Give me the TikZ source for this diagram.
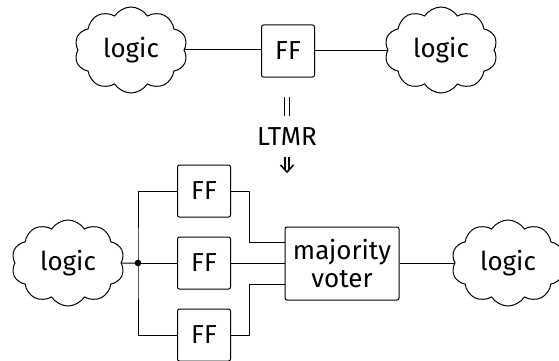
\documentclass[tikz,border=0pt]{standalone}
\usepackage{fontspec}
\setmainfont{Fira Sans}
\usetikzlibrary{shapes.symbols,calc}
\begin{document}
\begin{tikzpicture}[x=1pt,y=-1pt,
  every node/.style={font=\fontsize{26}{29}\selectfont},
  wire/.style={line width=1pt},
  logiccloud/.style={cloud, draw, line width=1pt, cloud puffs=10, cloud puff arc=115,
    cloud ignores aspect, minimum width=113pt, minimum height=86pt, inner sep=0pt},
  ffbox/.style={draw, line width=1pt, rounded corners=2pt, minimum width=53pt, minimum height=52pt, inner sep=0pt},
  voterbox/.style={draw, line width=1pt, rounded corners=2pt, minimum width=114pt, minimum height=73pt, inner sep=0pt, align=center}]
\useasboundingbox (0,0) rectangle (559,361);

% top row
\node[logiccloud] (tl) at (131,50) {logic};
\node[ffbox] (tff) at (288,51) {FF};
\node[logiccloud] (tr) at (441,50) {logic};
\draw[wire] (tl.east) -- (tl.east -| tff.west);
\draw[wire] (tff.east) -- (tff.east -| tr.west);

% transform
\node[inner sep=0pt] (ltmr) at (287,137) {LTMR};
\coordinate (bartop) at (287,97);
\coordinate (barbot) at (287,116);
\draw[line width=1.6pt] ($(bartop)+(-2.5,0)$) -- ($(barbot)+(-2.5,0)$);
\draw[line width=1.6pt] ($(bartop)+(2.5,0)$) -- ($(barbot)+(2.5,0)$);
\coordinate (arrtop) at (287,157);
\coordinate (arrtip) at (287,172);
\draw[line width=1.6pt] ($(arrtop)+(-2,0)$) -- ($(arrtip)+(-2,-3)$);
\draw[line width=1.6pt] ($(arrtop)+(2,0)$) -- ($(arrtip)+(2,-3)$);
\draw[line width=1.6pt, line join=miter] ($(arrtip)+(-6.5,-7)$) -- (arrtip) -- ($(arrtip)+(6.5,-7)$);

% bottom
\node[logiccloud] (bl) at (68,263) {logic};
\coordinate (junc) at (138,263);
\node[ffbox] (f1) at (204,191) {FF};
\node[ffbox] (f2) at (204,263) {FF};
\node[ffbox] (f3) at (204,335) {FF};
\node[voterbox] (mv) at (342,263.5) {majority\\[-1pt]voter};
\node[logiccloud] (br) at (508,263) {logic};

\draw[wire] (bl.east) -- (junc);
\fill (junc) circle (3.3pt);
\draw[wire] (f1.west) -| (junc) |- (f3.west);
\draw[wire] (junc) -- (f2.west);

\coordinate (i1) at (285,242);
\coordinate (i3) at (285,284);
\draw[wire] (f1.east) -- ++(18,0) |- (i1);
\draw[wire] (f2.east) -- (f2.east -| mv.west);
\draw[wire] (f3.east) -- ++(18,0) |- (i3);
\draw[wire] (mv.east) -- (mv.east -| br.west);
\end{tikzpicture}
\end{document}
